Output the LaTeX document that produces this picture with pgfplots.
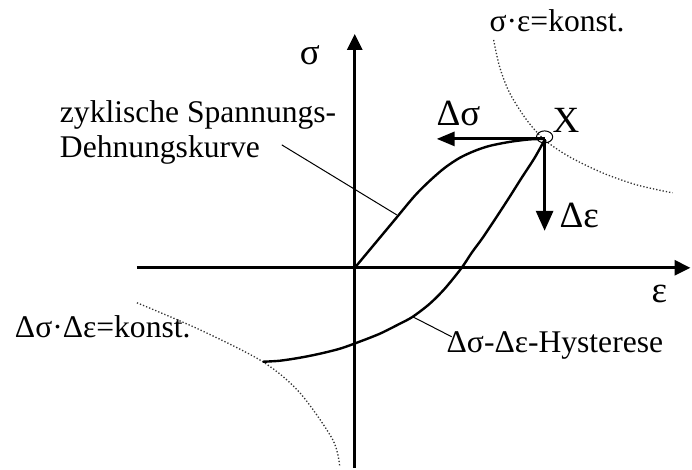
\documentclass[border=0pt]{standalone}
\usepackage{fontspec}
\setmainfont{Liberation Serif}
\usepackage{pgfplots}
\pgfplotsset{compat=1.18}
\usetikzlibrary{arrows.meta}

\begin{document}
\fontsize{15.8}{17.5}\selectfont
\begin{tikzpicture}[
  lbl/.style={inner sep=0pt, outer sep=0pt, anchor=base west, font=\fontsize{15.8}{17.5}\selectfont},
  glbl/.style={lbl, font=\fontsize{18.5}{20}\selectfont}]
\begin{axis}[
  hide axis, scale only axis,
  width=346pt, height=234pt,
  xmin=0, xmax=692, ymin=0, ymax=468,
  y dir=reverse, clip=false,
]
% keep the whole drawing area in the bounding box
\addplot[draw=none] coordinates {(0,0) (692,468)};

% hyperbolas of constant product (dotted)
\addplot[densely dotted, line width=0.65pt, black!80, smooth] coordinates {
  (494,40) (500,67) (510,93) (527,120) (545,140) (570,157) (603,173) (637,185) (673,193)};
\addplot[densely dotted, line width=0.65pt, black!80, smooth] coordinates {
  (137,303) (200,330) (263,362) (300,393) (333,440) (340,467)};

% coordinate axes
\addplot[line width=1.5pt, -{Triangle[length=8pt, width=7.5pt]}] coordinates {(137,268) (691,268)};
\addplot[line width=1.5pt, -{Triangle[length=8pt, width=7.5pt]}] coordinates {(355,468) (355,34)};

% cyclic stress-strain curve
\addplot[line width=1.2pt, smooth] coordinates {
  (355,268) (375,244) (395,220) (415,196) (430,181) (445,168) (460,158)
  (475,151) (490,146) (510,142) (530,139.5) (545,139)};

% hysteresis branch
\addplot[line width=1.2pt, smooth] coordinates {
  (263,362) (280,361) (300,358) (320,354) (340,349) (357,343) (380,334)
  (400,324) (413,317) (430,304) (445,289) (462,268) (472,253) (483,238)
  (497,217) (510,197) (522,178) (535,158) (545,140)};

% amplitude arrows at X
\addplot[line width=1.5pt, -{Triangle[length=9pt, width=7pt]}] coordinates {(545,139) (437,139)};
\addplot[line width=1.5pt, -{Triangle[length=10pt, width=8.5pt]}] coordinates {(545,139) (545,231)};

% point X
\addplot[only marks, mark=o, mark size=3pt, mark options={xscale=1.35, line width=0.5pt}] coordinates {(545,137)};

% leader lines
\addplot[line width=0.5pt] coordinates {(282,145) (397,215)};
\addplot[line width=0.5pt] coordinates {(413,317) (452,337)};

% labels
\node[glbl] at (axis cs:300,65) {σ};
\node[glbl] at (axis cs:652,303) {ε};
\node[lbl] at (axis cs:490,32) {σ·ε=konst.};
\node[glbl] at (axis cs:437,126) {Δσ};
\node[glbl] at (axis cs:553,133) {X};
\node[glbl] at (axis cs:560,228) {Δε};
\node[lbl] at (axis cs:15,338) {Δσ·Δε=konst.};
\node[lbl] at (axis cs:447,353) {Δσ-Δε-Hysterese};
\node[lbl, align=left] at (axis cs:60,158) {zyklische Spannungs-\\Dehnungskurve};
\end{axis}
\end{tikzpicture}
\end{document}
